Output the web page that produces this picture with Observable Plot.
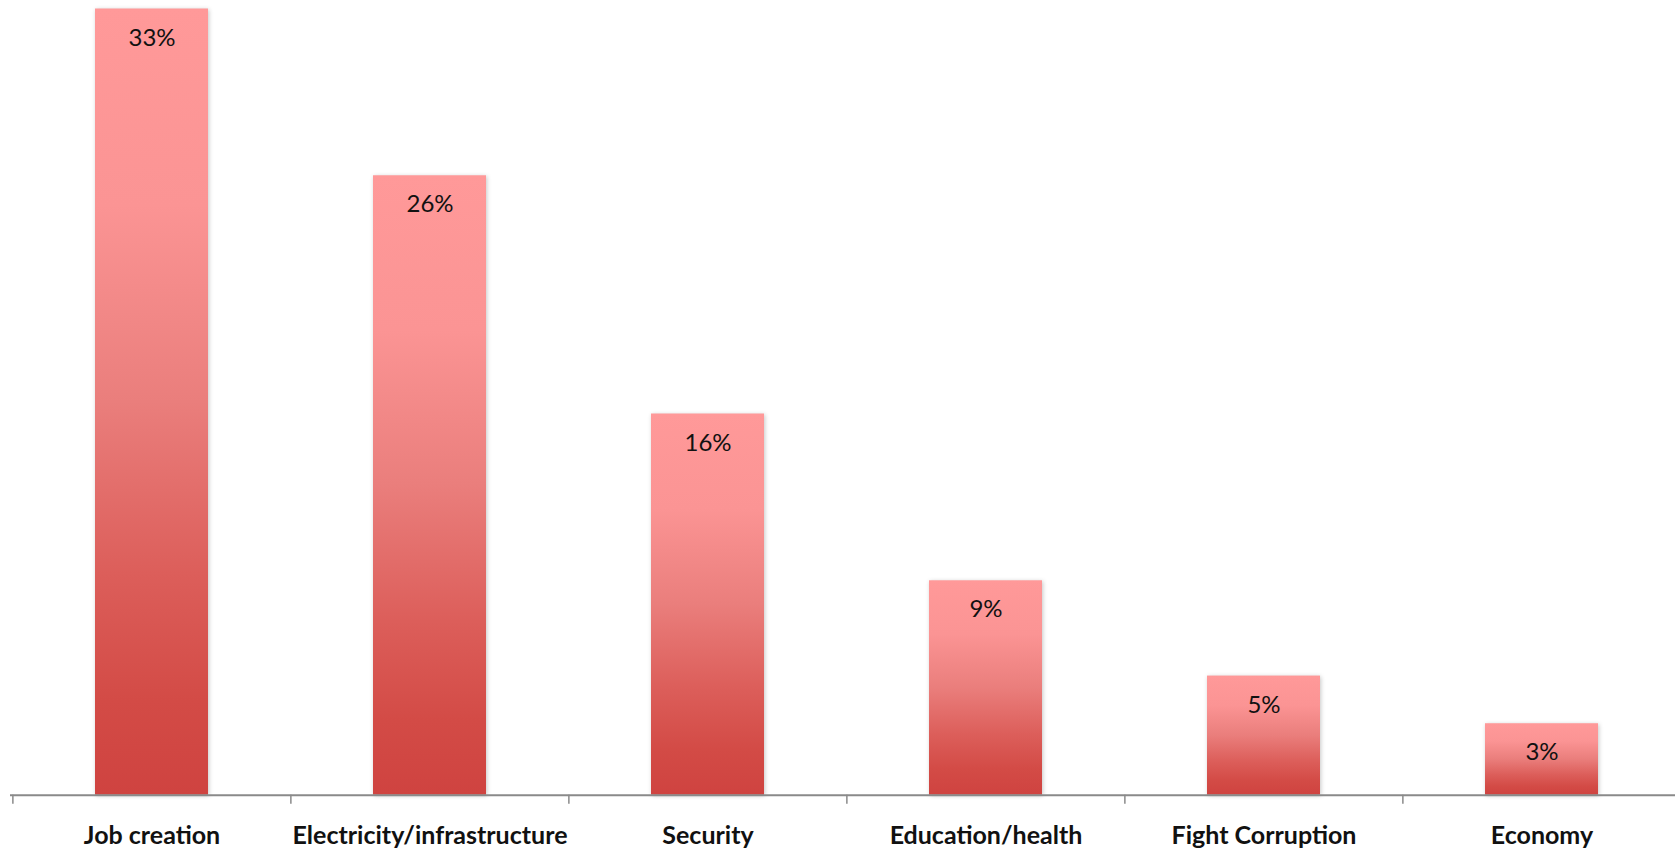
<!DOCTYPE html>
<html>
<head>
<meta charset="utf-8">
<script src="https://cdn.jsdelivr.net/npm/d3@7"></script>
<script src="https://cdn.jsdelivr.net/npm/@observablehq/plot@0.6"></script>
<style>
  html, body { margin: 0; padding: 0; background: #fff; overflow: hidden; }
  #chart svg { display: block; }
</style>
</head>
<body>
<div id="chart"></div>
<script>
const categories = ["Job creation", "Electricity/infrastructure", "Security", "Education/health", "Fight Corruption", "Economy"];
const shares = [33, 26, 16, 9, 5, 3];
const valueLabels = ["33%", "26%", "16%", "9%", "5%", "3%"];

const data = categories.map((c, i) => ({category: c, value: shares[i], label: valueLabels[i]}));

const W = 1675, H = 854;
const step = (1681 - 11.5) / categories.length;

function gradientDefs() {
  const defs = d3.create("svg:defs");
  const g = defs.append("linearGradient")
    .attr("id", "barGrad").attr("x1", 0).attr("y1", 0).attr("x2", 0).attr("y2", 1);
  [[0, "#ff9999"], [0.25, "#fb9494"], [0.5, "#ea7e7c"], [0.72, "#dc5e5a"], [0.88, "#d34b46"], [1, "#cf4340"]]
    .forEach(([o, c]) => g.append("stop").attr("offset", o).attr("stop-color", c));
  return defs.node();
}

const plot = Plot.plot({
  width: W,
  height: H,
  marginTop: 8.5,
  marginBottom: 59.3,
  marginLeft: 10,
  marginRight: 0,
  style: {background: "#fff", fontFamily: "Lato, 'Open Sans', sans-serif"},
  x: {domain: categories, range: [11.5, 1681], paddingInner: 0.594, paddingOuter: 0.297, label: null},
  y: {domain: [0, 33], label: null, axis: null},
  marks: [
    gradientDefs,
    Plot.barY(data, {x: "category", y: "value", fill: "url(#barGrad)"}),
    Plot.ruleY([0], {stroke: "#8a8a8a", strokeWidth: 2}),
    Plot.ruleX(categories, {x: d => d, y1: 0, y2: -0.38, dx: -step / 2, stroke: "#8a8a8a", strokeWidth: 1.5}),
    Plot.text(data, {x: "category", y: "value", text: "label", dy: 29, fontSize: 24, fill: "#111"}),
    Plot.axisX({tickSize: 0, tickPadding: 31, fontSize: 25, fontWeight: "bold", fill: "#111", label: null})
  ]
});

d3.select(plot).selectAll("g[aria-label='bar'] rect")
  .style("filter", "drop-shadow(1px 1px 2px rgba(0,0,0,0.22))");

document.getElementById("chart").appendChild(plot);
</script>
</body>
</html>
